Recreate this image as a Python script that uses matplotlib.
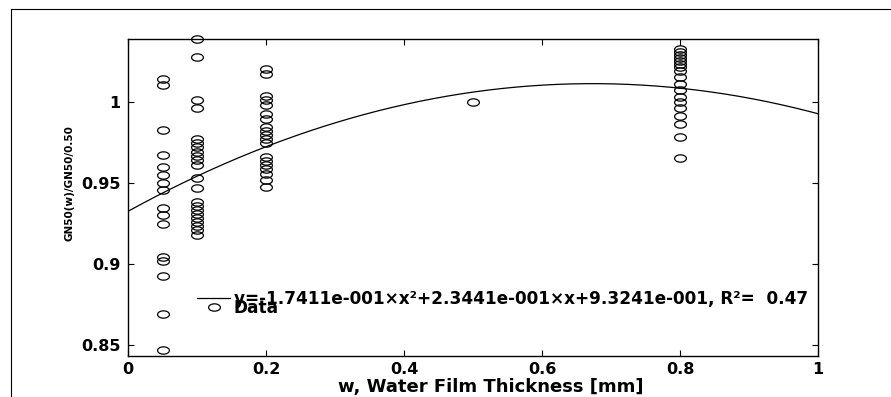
import numpy as np
import matplotlib
matplotlib.use("Agg")
import matplotlib.pyplot as plt
from matplotlib.path import Path
from matplotlib.lines import Line2D

# normalised GN50 measurements, grouped by water film thickness [mm]
w_005 = [1.0140, 1.0105, 0.9827, 0.9673, 0.9601, 0.9549, 0.9498, 0.9457,
         0.9346, 0.9302, 0.9247, 0.9043, 0.9019, 0.8926, 0.8691, 0.8469]
w_010 = [1.0389, 1.0278, 1.0012, 0.9963, 0.9772, 0.9747, 0.9722, 0.9691,
         0.9667, 0.9642, 0.9611, 0.9531, 0.9469, 0.9383, 0.9358, 0.9333,
         0.9309, 0.9284, 0.9259, 0.9235, 0.9210, 0.9179]
w_020 = [1.0204, 1.0173, 1.0037, 1.0012, 0.9981, 0.9926, 0.9895, 0.9846,
         0.9821, 0.9796, 0.9772, 0.9747, 0.9660, 0.9636, 0.9611, 0.9586,
         0.9556, 0.9519, 0.9475]
w_050 = [1.0]
w_080 = [1.0327, 1.0309, 1.0290, 1.0272, 1.0253, 1.0235, 1.0216, 1.0191,
         1.0154, 1.0111, 1.0074, 1.0031, 1.0000, 0.9963, 0.9914, 0.9864,
         0.9784, 0.9654]

groups = {0.05: w_005, 0.1: w_010, 0.2: w_020, 0.5: w_050, 0.8: w_080}

# quadratic fit  y = a*x^2 + b*x + c
fit_coef = [-1.7411e-001, 2.3441e-001, 9.3241e-001]
r2 = 0.47

xticks = [0, 0.2, 0.4, 0.6, 0.8, 1]
xticklabels = ["0", "0.2", "0.4", "0.6", "0.8", "1"]
yticks = [0.85, 0.9, 0.95, 1]
yticklabels = ["0.85", "0.9", "0.95", "1"]

plt.rcParams["font.family"] = "DejaVu Sans"
plt.rcParams["font.weight"] = "bold"

# slightly flattened open circle
t = np.linspace(0, 2 * np.pi, 40)
ell = Path(np.column_stack([np.cos(t), 0.62 * np.sin(t)]), closed=True)

fig = plt.figure(figsize=(8.91, 3.97), dpi=100)
ax = fig.add_axes([128 / 891, 1 - 356 / 397, 690 / 891, 317 / 397])

xs = np.concatenate([[k] * len(v) for k, v in groups.items()])
ys = np.concatenate(list(groups.values()))

xf = np.linspace(0, 1, 200)
yf = np.polyval(fit_coef, xf)
line, = ax.plot(xf, yf, color="black", lw=0.9)
pts, = ax.plot(xs, ys, ls="none", marker=ell, ms=8.5, mfc="none",
               mec="black", mew=0.9, clip_on=False)

ax.set_xlim(0, 1)
ax.set_ylim(0.843, 1.0389)
ax.set_xticks(xticks)
ax.set_xticklabels(xticklabels)
ax.set_yticks(yticks)
ax.set_yticklabels(yticklabels)
ax.tick_params(direction="in", top=True, right=True, length=4, width=0.8,
               labelsize=11.5)
ax.tick_params(axis="x", pad=4)
ax.tick_params(axis="y", pad=5.5)
for s in ax.spines.values():
    s.set_linewidth(1.0)

ax.set_xlabel("w, Water Film Thickness [mm]", fontsize=13, fontweight="bold")
ax.xaxis.set_label_coords(0.525, -0.07)
ax.set_ylabel("GN50(w)/GN50/0.50", fontsize=7.5, fontweight="bold")
ax.yaxis.set_label_coords(-0.077, 0.546)

eq = ("y=%.4fe-001\u00d7x\u00b2+%.4fe-001\u00d7x+%.4fe-001, R\u00b2=  %.2f"
      % (fit_coef[0] * 10, fit_coef[1] * 10, fit_coef[2] * 10, r2))
ax.legend([line, pts], [eq, "Data"], loc="upper left",
          bbox_to_anchor=(0.1, 0.208), frameon=False, fontsize=12.2,
          labelspacing=-0.53, handlelength=1.95, handletextpad=0.22,
          borderpad=0, borderaxespad=0)

# outer figure border (top and left edges)
fig.add_artist(Line2D([11 / 891, 11 / 891], [0, 1 - 9 / 397], color="black", lw=0.8))
fig.add_artist(Line2D([11 / 891, 1], [1 - 9 / 397, 1 - 9 / 397], color="black", lw=0.8))

fig.savefig("out.png", dpi=100)
